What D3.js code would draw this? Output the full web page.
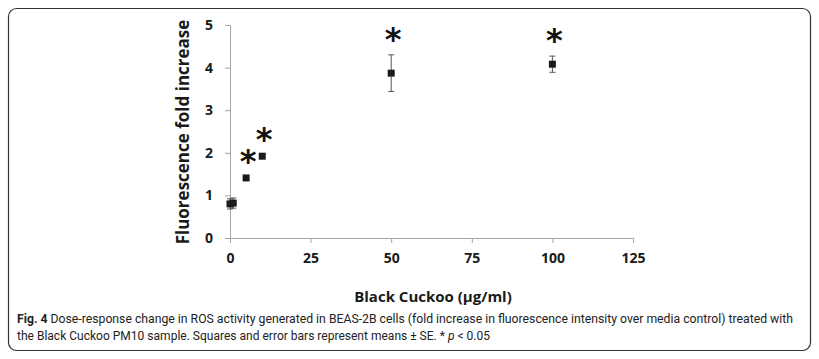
<!DOCTYPE html>
<html><head><meta charset="utf-8">
<script src="https://cdn.jsdelivr.net/npm/d3@7"></script>
<style>body{margin:0;background:#fff;} svg{display:block;}</style>
</head><body>
<script>
const doses = [0, 1, 5, 10, 50, 100];
const means = [0.80, 0.82, 1.41, 1.92, 3.87, 4.08];
const errors = [0.12, 0.12, 0.03, 0.03, 0.43, 0.19];
const significant = [false, false, true, true, true, true];
const xTicks = [0, 25, 50, 75, 100, 125];
const yTicks = [0, 1, 2, 3, 4, 5];
const xLabel = "Black Cuckoo (µg/ml)";
const yLabel = "Fluorescence fold increase";
const captionBold = "Fig. 4";
const captionLine1 = " Dose-response change in ROS activity generated in BEAS-2B cells (fold increase in fluorescence intensity over media control) treated with";
const captionLine2a = "the Black Cuckoo PM10 sample. Squares and error bars represent means ± SE. * ";
const captionLine2b = "p";
const captionLine2c = " < 0.05";

const W = 819, H = 359;
const svg = d3.select("body").append("svg").attr("width", W).attr("height", H);

svg.append("rect").attr("x", 8.5).attr("y", 8.5).attr("width", 802).attr("height", 342)
  .attr("rx", 8).attr("fill", "none").attr("stroke", "#333").attr("stroke-width", 1.2);

const x = d3.scaleLinear().domain([0, 125]).range([230, 633]);
const y = d3.scaleLinear().domain([0, 5]).range([238, 25]);

const axisColor = "#a6a6a6";
const fontBold = "'Open Sans', 'DejaVu Sans', sans-serif";

const gx = svg.append("g").attr("transform", "translate(0,238)")
  .call(d3.axisBottom(x).tickValues(xTicks).tickFormat(d3.format("d")).tickSize(5).tickPadding(10));
const gy = svg.append("g").attr("transform", "translate(230,0)")
  .call(d3.axisLeft(y).tickValues(yTicks).tickFormat(d3.format("d")).tickSize(5).tickPadding(12));
[gx, gy].forEach(g => {
  g.select(".domain").attr("stroke", axisColor);
  g.selectAll(".tick line").attr("stroke", axisColor);
  g.selectAll(".tick text").attr("fill", "#1a1a1a").attr("font-size", 14)
    .attr("font-weight", "bold").attr("font-family", fontBold);
});

// axis titles
svg.append("text").attr("x", 433).attr("y", 302).attr("text-anchor", "middle")
  .attr("font-size", 15).attr("font-weight", "bold").attr("font-family", fontBold)
  .attr("fill", "#1a1a1a").text(xLabel);
svg.append("text").attr("transform", "translate(189,132) rotate(-90)")
  .attr("text-anchor", "middle").attr("font-size", 17).attr("font-weight", "bold")
  .attr("font-family", fontBold).attr("fill", "#1a1a1a").text(yLabel);

const data = doses.map((d, i) => ({d, m: means[i], e: errors[i], s: significant[i]}));

// error bars
const eb = svg.append("g").attr("stroke", "#555").attr("stroke-width", 1);
data.forEach(p => {
  const cx = x(p.d);
  eb.append("line").attr("x1", cx).attr("x2", cx).attr("y1", y(p.m + p.e)).attr("y2", y(p.m - p.e));
  eb.append("line").attr("x1", cx - 3).attr("x2", cx + 3).attr("y1", y(p.m + p.e)).attr("y2", y(p.m + p.e));
  eb.append("line").attr("x1", cx - 3).attr("x2", cx + 3).attr("y1", y(p.m - p.e)).attr("y2", y(p.m - p.e));
});

// squares
svg.append("g").selectAll("rect").data(data).join("rect")
  .attr("x", p => x(p.d) - 3.5).attr("y", p => y(p.m) - 3.5)
  .attr("width", 7).attr("height", 7).attr("fill", "#1a1a1a");

// asterisks
svg.append("g").selectAll("text").data(data.filter(p => p.s)).join("text")
  .attr("x", p => x(p.d) + 2)
  .attr("y", p => y(p.m + p.e) + 2 - 7)
  .attr("text-anchor", "middle").attr("font-size", 32).attr("font-weight", "bold")
  .attr("font-family", "'DejaVu Sans', sans-serif").attr("fill", "#111")
  .text("*");

// caption
const cap = svg.append("g").attr("font-family", "'Liberation Sans Narrow', 'Roboto', sans-serif")
  .attr("font-size", 12).attr("fill", "#222");
const t1 = cap.append("text").attr("x", 17).attr("y", 323).attr("textLength", 776).attr("lengthAdjust", "spacingAndGlyphs");
t1.append("tspan").attr("font-weight", "bold").text(captionBold);
t1.append("tspan").text(captionLine1);
const t2 = cap.append("text").attr("x", 17).attr("y", 340).attr("textLength", 473).attr("lengthAdjust", "spacingAndGlyphs");
t2.append("tspan").text(captionLine2a);
t2.append("tspan").attr("font-style", "italic").text(captionLine2b);
t2.append("tspan").text(captionLine2c);
</script>
</body></html>
